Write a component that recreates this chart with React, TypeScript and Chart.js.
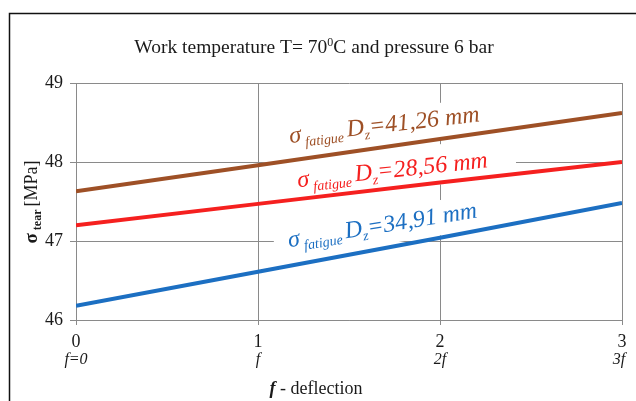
import React, { useEffect, useRef } from "react";
import { Chart, registerables } from "chart.js";

Chart.register(...registerables);

const xValues = [0, 1, 2, 3];
const xSubLabels = ["f=0", "f", "2f", "3f"];
const brownValues = [47.63, 47.96, 48.29, 48.62];
const redValues = [47.2, 47.47, 47.74, 48.0];
const blueValues = [46.18, 46.61, 47.04, 47.48];
const diameterLabels = ["41,26", "28,56", "34,91"];
const seriesColors = ["#9e5026", "#f5201f", "#1c6fc2"];

const SERIF = "'Liberation Serif', 'Times New Roman', serif";

// label anchors in data coordinates and rotation (degrees)
const labelAnchors = [
  { x: 1.176, y: 48.24, angle: -6.5, pad: { l: 14, r: 14, t: 5, b: 3 } },
  { x: 1.22, y: 47.68, angle: -6, pad: { l: 36, r: 28, t: 10, b: 3 } },
  { x: 1.17, y: 46.92, angle: -9, pad: { l: 14, r: 12, t: 5, b: 3 } },
];

type Part = { t: string; font: string; dy: number };

function measure(ctx: CanvasRenderingContext2D, parts: Part[]) {
  let w = 0;
  for (const p of parts) {
    ctx.font = p.font;
    w += ctx.measureText(p.t).width;
  }
  return w;
}

function drawParts(ctx: CanvasRenderingContext2D, parts: Part[], x: number, y: number, color: string) {
  let cx = x;
  ctx.fillStyle = color;
  ctx.textBaseline = "alphabetic";
  ctx.textAlign = "left";
  for (const p of parts) {
    ctx.font = p.font;
    ctx.fillText(p.t, cx, y + p.dy);
    cx += ctx.measureText(p.t).width;
  }
}

function labelParts(d: string): Part[] {
  return [
    { t: "σ", font: `italic 24px ${SERIF}`, dy: 0 },
    { t: " fatigue ", font: `italic 14px ${SERIF}`, dy: 5 },
    { t: "D", font: `italic 24px ${SERIF}`, dy: 0 },
    { t: "z", font: `italic 14px ${SERIF}`, dy: 5 },
    { t: `=${d} mm`, font: `italic 24px ${SERIF}`, dy: 0 },
  ];
}

const decorPlugin = {
  id: "decor",
  beforeDraw(chart: any) {
    const ctx: CanvasRenderingContext2D = chart.ctx;
    ctx.save();
    ctx.fillStyle = "#ffffff";
    ctx.fillRect(0, 0, chart.width, chart.height);
    ctx.strokeStyle = "#111";
    ctx.lineWidth = 1.5;
    ctx.beginPath();
    ctx.moveTo(9.5, chart.height + 2);
    ctx.lineTo(9.5, 13.5);
    ctx.lineTo(chart.width + 2, 13.5);
    ctx.stroke();
    ctx.restore();
  },
  beforeDatasetsDraw(chart: any) {
    const ctx: CanvasRenderingContext2D = chart.ctx;
    const xs = chart.scales.x;
    const ys = chart.scales.y;
    labelAnchors.forEach((a, i) => {
      const px = xs.getPixelForValue(a.x);
      const py = ys.getPixelForValue(a.y);
      const parts = labelParts(diameterLabels[i]);
      ctx.save();
      ctx.translate(px, py);
      ctx.rotate((a.angle * Math.PI) / 180);
      const w = measure(ctx, parts);
      ctx.fillStyle = "#ffffff";
      ctx.fillRect(-a.pad.l, -18 - a.pad.t, w + a.pad.l + a.pad.r, 18 + 9 + a.pad.t + a.pad.b);
      drawParts(ctx, parts, 0, 0, seriesColors[i]);
      ctx.restore();
    });
  },
  afterDraw(chart: any) {
    const ctx: CanvasRenderingContext2D = chart.ctx;
    const xs = chart.scales.x;
    ctx.save();
    // title
    const title: Part[] = [
      { t: "Work temperature T= 70", font: `19.5px ${SERIF}`, dy: 0 },
      { t: "0", font: `12px ${SERIF}`, dy: -7 },
      { t: "C and pressure 6 bar", font: `19.5px ${SERIF}`, dy: 0 },
    ];
    const tw = measure(ctx, title);
    drawParts(ctx, title, 314 - tw / 2, 53, "#1a1a1a");

    // x sub labels
    ctx.font = `italic 16px ${SERIF}`;
    ctx.fillStyle = "#1a1a1a";
    ctx.textAlign = "center";
    ctx.textBaseline = "middle";
    xValues.forEach((v, i) => {
      ctx.fillText(xSubLabels[i], xs.getPixelForValue(v) - (i === 3 ? 3 : 0), 360);
    });

    // x axis title
    const xt: Part[] = [
      { t: "f", font: `bold italic 18px ${SERIF}`, dy: 0 },
      { t: " - deflection", font: `18px ${SERIF}`, dy: 0 },
    ];
    const xw = measure(ctx, xt);
    drawParts(ctx, xt, 316 - xw / 2, 394, "#1a1a1a");

    // y axis title
    const yt: Part[] = [
      { t: "σ", font: `bold 19px ${SERIF}`, dy: 0 },
      { t: " tear ", font: `bold 12px ${SERIF}`, dy: 4 },
      { t: "[MPa]", font: `18px ${SERIF}`, dy: 0 },
    ];
    const yw = measure(ctx, yt);
    ctx.translate(37, 202);
    ctx.rotate(-Math.PI / 2);
    drawParts(ctx, yt, -yw / 2, 0, "#1a1a1a");
    ctx.restore();
  },
};

export default function App() {
  const ref = useRef<HTMLCanvasElement | null>(null);
  useEffect(() => {
    if (!ref.current) return;
    const gridColor = "#8a8a8a";
    const chart = new Chart(ref.current, {
      type: "line",
      data: {
        datasets: [brownValues, redValues, blueValues].map((vals, i) => ({
          data: xValues.map((x, j) => ({ x, y: vals[j] })),
          borderColor: seriesColors[i],
          borderWidth: 4,
          pointRadius: 0,
          tension: 0,
          fill: false,
        })),
      },
      options: {
        animation: false,
        responsive: false,
        layout: { padding: { left: 8, right: 14, top: 83, bottom: 0 } },
        plugins: { legend: { display: false }, tooltip: { enabled: false } },
        scales: {
          x: {
            type: "linear",
            min: 0,
            max: 3,
            afterFit: (s: any) => {
              s.height = 81;
            },
            ticks: {
              stepSize: 1,
              font: { family: SERIF, size: 18 },
              color: "#1a1a1a",
              padding: 6,
              maxRotation: 0,
            },
            grid: { color: gridColor, tickLength: 5, lineWidth: 1 },
            border: { color: gridColor, width: 1 },
          },
          y: {
            type: "linear",
            min: 46,
            max: 49,
            afterFit: (s: any) => {
              s.width = 68;
            },
            ticks: {
              stepSize: 1,
              font: { family: SERIF, size: 18 },
              color: "#1a1a1a",
              padding: 7,
            },
            grid: { color: gridColor, tickLength: 6, lineWidth: 1 },
            border: { color: gridColor, width: 1 },
          },
        },
      },
      plugins: [decorPlugin],
    } as any);
    return () => chart.destroy();
  }, []);
  return (
    <div style={{ position: "fixed", left: 0, top: 0, width: 636, height: 401 }}>
      <canvas ref={ref} width={636} height={401} style={{ display: "block" }} />
    </div>
  );
}
